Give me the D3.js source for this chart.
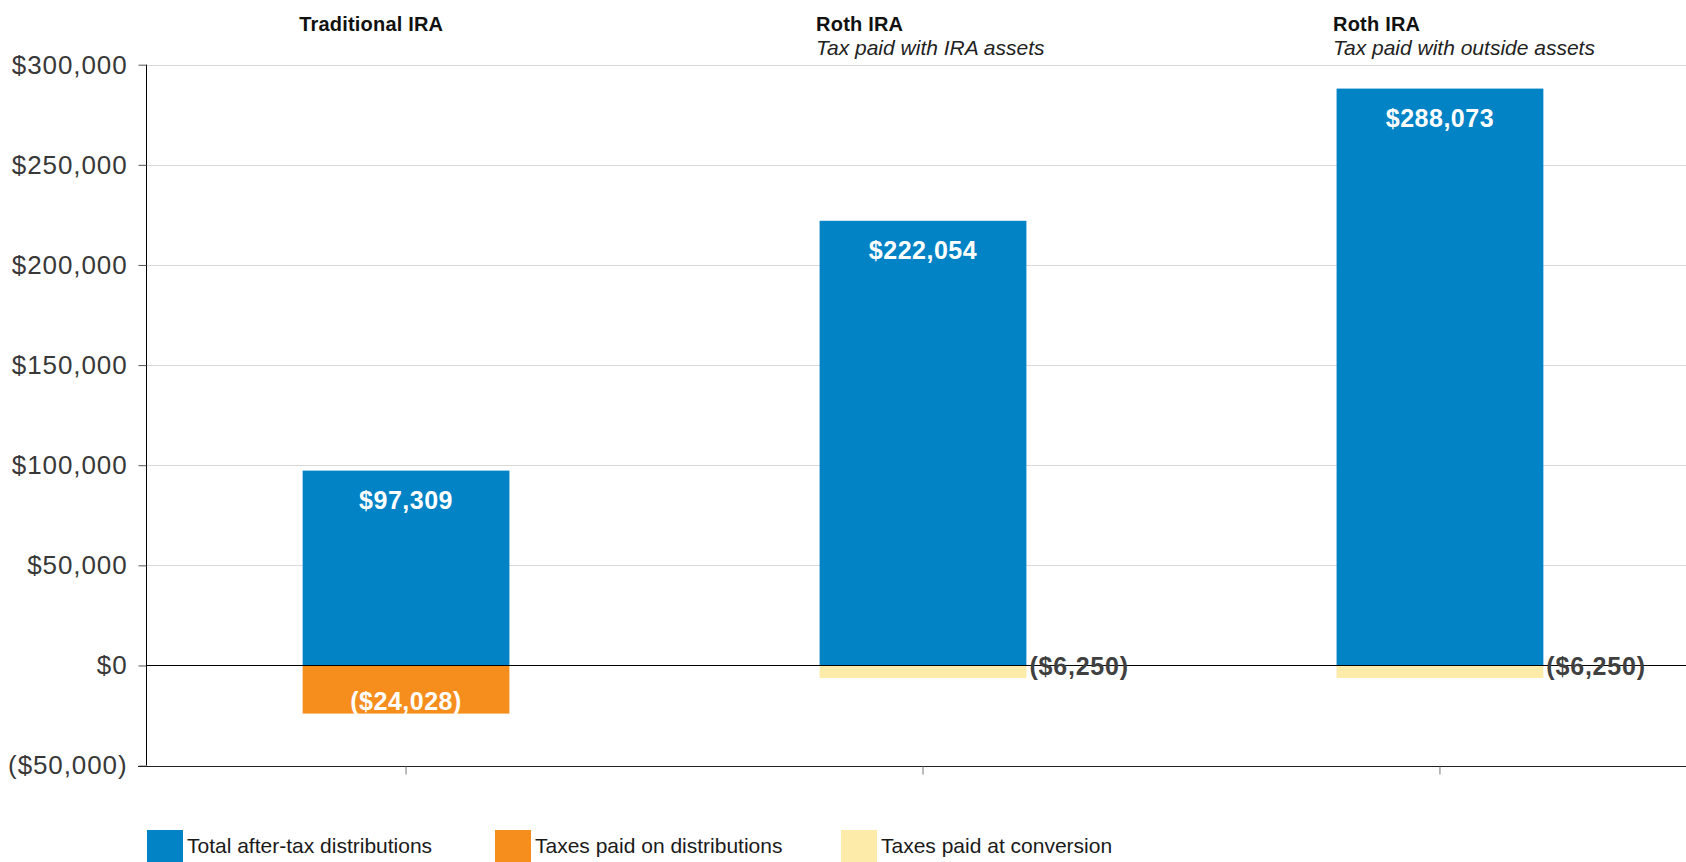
<!DOCTYPE html>
<html>
<head>
<meta charset="utf-8">
<script src="https://cdn.jsdelivr.net/npm/d3@7"></script>
<style>
  html, body { margin: 0; padding: 0; background: #fff; }
  svg { display: block; }
  text { font-family: "Liberation Sans", Arial, Helvetica, sans-serif; }
</style>
</head>
<body>
<script>
// ---- Data ----
const categories = ["Traditional IRA", "Roth IRA", "Roth IRA"];
const subtitles = ["", "Tax paid with IRA assets", "Tax paid with outside assets"];
const afterTaxDistributions = [97309, 222054, 288073];
const taxesOnDistributions = [-24028, 0, 0];
const taxesAtConversion = [0, -6250, -6250];
const yTickValues = [-50000, 0, 50000, 100000, 150000, 200000, 250000, 300000];
const seriesNames = ["Total after-tax distributions", "Taxes paid on distributions", "Taxes paid at conversion"];
const seriesColors = ["#0283c6", "#f68e1e", "#fdeba9"];

// ---- Layout ----
const W = 1686, H = 862;
const x0 = 146, yTop = 64.7, yBottom = 765.6;

const svg = d3.select("body").append("svg").attr("width", W).attr("height", H);

const x = d3.scaleBand().domain(d3.range(categories.length))
  .range([x0, 1700]).paddingInner(0.6).paddingOuter(0.303);
const y = d3.scaleLinear().domain([-50000, 300000]).range([yBottom, yTop]);

const money = d3.format("$,");
const fmt = v => v < 0 ? "(" + money(-v) + ")" : money(v);

// gridlines
svg.append("g").selectAll("line").data(yTickValues.filter(v => v > 0)).join("line")
  .attr("x1", x0).attr("x2", W)
  .attr("y1", d => Math.round(y(d)) + 0.5).attr("y2", d => Math.round(y(d)) + 0.5)
  .attr("stroke", "#d9d9d9").attr("stroke-width", 1.2);

// bars
const stacks = [
  { name: seriesNames[0], color: seriesColors[0], values: afterTaxDistributions },
  { name: seriesNames[1], color: seriesColors[1], values: taxesOnDistributions },
  { name: seriesNames[2], color: seriesColors[2], values: taxesAtConversion }
];
stacks.forEach(s => {
  svg.append("g").selectAll("rect").data(s.values.map((v, i) => ({ v, i })).filter(d => d.v !== 0)).join("rect")
    .attr("x", d => x(d.i)).attr("width", x.bandwidth())
    .attr("y", d => y(Math.max(0, d.v)))
    .attr("height", d => Math.abs(y(d.v) - y(0)))
    .attr("fill", s.color);
});

// y axis
const yAxis = d3.axisLeft(y).tickValues(yTickValues).tickSize(8).tickPadding(11).tickFormat(fmt);
const gy = svg.append("g").attr("transform", `translate(${x0 + 0.5},0)`).call(yAxis);
gy.select(".domain").attr("stroke", "#000").attr("d", `M0,${yTop}V${yBottom}`);
gy.selectAll(".tick line").attr("stroke", "#555");
gy.selectAll(".tick text").attr("font-size", 26).attr("fill", "#383838")
  .attr("letter-spacing", "0.9px").attr("font-family", "Liberation Sans, Arial, sans-serif");

// zero line and bottom axis line
svg.append("line").attr("x1", x0).attr("x2", W)
  .attr("y1", Math.round(y(0)) + 0.5).attr("y2", Math.round(y(0)) + 0.5)
  .attr("stroke", "#000").attr("stroke-width", 1.2);
svg.append("line").attr("x1", x0 - 8).attr("x2", W)
  .attr("y1", Math.round(y(-50000)) + 0.5).attr("y2", Math.round(y(-50000)) + 0.5)
  .attr("stroke", "#222").attr("stroke-width", 1.2);

// x axis ticks
const xAxis = d3.axisBottom(x).tickSize(8).tickFormat("");
const gx = svg.append("g").attr("transform", `translate(0,${Math.round(y(-50000)) + 0.5})`).call(xAxis);
gx.select(".domain").remove();
gx.selectAll(".tick line").attr("stroke", "#777");

// value labels inside blue bars
svg.append("g").selectAll("text").data(afterTaxDistributions).join("text")
  .attr("x", (d, i) => x(i) + x.bandwidth() / 2)
  .attr("y", d => y(d) + 38)
  .attr("text-anchor", "middle").attr("font-size", 25).attr("font-weight", "bold")
  .attr("letter-spacing", "0.5px").attr("fill", "#fff").text(fmt);

// orange label inside bar
svg.append("g").selectAll("text").data(taxesOnDistributions.map((v, i) => ({ v, i })).filter(d => d.v !== 0)).join("text")
  .attr("x", d => x(d.i) + x.bandwidth() / 2)
  .attr("y", d => y(d.v) - 4)
  .attr("text-anchor", "middle").attr("font-size", 25).attr("font-weight", "bold")
  .attr("letter-spacing", "0.5px").attr("fill", "#fff").text(d => fmt(d.v));

// conversion labels to the right of bars
svg.append("g").selectAll("text").data(taxesAtConversion.map((v, i) => ({ v, i })).filter(d => d.v !== 0)).join("text")
  .attr("x", d => x(d.i) + x.bandwidth() + 3)
  .attr("y", d => y(d.v / 2) + 3)
  .attr("font-size", 25).attr("font-weight", "bold")
  .attr("letter-spacing", "0.8px").attr("fill", "#404040").text(d => fmt(d.v));

// column headers
const hdr = svg.append("g");
categories.forEach((c, i) => {
  hdr.append("text").attr("x", x(i) - 3.5).attr("y", 31)
    .attr("font-size", 20).attr("font-weight", "bold").attr("fill", "#111")
    .attr("letter-spacing", "0.2px").text(c);
  if (subtitles[i]) {
    hdr.append("text").attr("x", x(i) - 3.5).attr("y", 55)
      .attr("font-size", 21).attr("font-style", "italic").attr("fill", "#222").text(subtitles[i]);
  }
});

// legend
const legendX = [147, 495, 841];
const lg = svg.append("g");
seriesNames.forEach((n, i) => {
  lg.append("rect").attr("x", legendX[i]).attr("y", 830).attr("width", 36).attr("height", 36).attr("fill", seriesColors[i]);
  lg.append("text").attr("x", legendX[i] + 40).attr("y", 853).attr("font-size", 21).attr("fill", "#1a1a1a").text(n);
});
</script>
</body>
</html>
